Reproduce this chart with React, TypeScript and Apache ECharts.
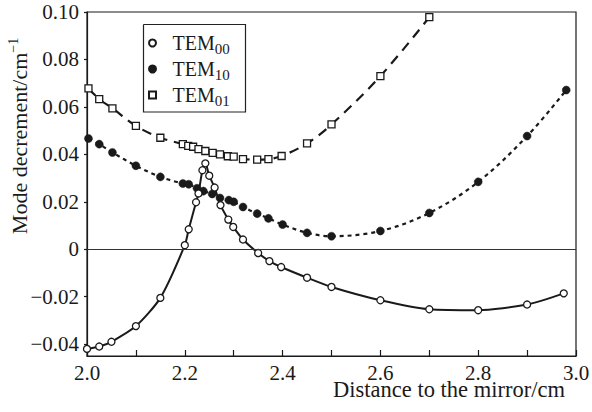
import React, { useEffect, useRef } from "react";
import * as echarts from "echarts";

// ---- data ----
const xTickValues = [2.0, 2.1, 2.2, 2.3, 2.4, 2.5, 2.6, 2.7, 2.8, 2.9, 3.0];
const xLabelValues = [2.0, 2.2, 2.4, 2.6, 2.8, 3.0];
const yLabelValues = [-0.04, -0.02, 0, 0.02, 0.04, 0.06, 0.08, 0.1];

const tem00X = [2.0, 2.025, 2.05, 2.1, 2.15, 2.2, 2.208, 2.223, 2.228, 2.236, 2.242, 2.25, 2.261, 2.273, 2.289, 2.299, 2.319, 2.35, 2.373, 2.397, 2.45, 2.5, 2.6, 2.7, 2.8, 2.9, 2.975];
const tem00Y = [-0.042, -0.041, -0.039, -0.0324, -0.0205, 0.0017, 0.0084, 0.0198, 0.0235, 0.0333, 0.0362, 0.031, 0.026, 0.0186, 0.0125, 0.0094, 0.0041, -0.0016, -0.005, -0.0075, -0.012, -0.0159, -0.0215, -0.0253, -0.0257, -0.0233, -0.0186];

const tem10X = [2.003, 2.025, 2.052, 2.1, 2.15, 2.196, 2.208, 2.225, 2.238, 2.256, 2.272, 2.29, 2.3, 2.319, 2.348, 2.371, 2.4, 2.45, 2.5, 2.6, 2.7, 2.8, 2.9, 2.98];
const tem10Y = [0.0467, 0.0443, 0.0408, 0.0352, 0.0305, 0.0277, 0.0274, 0.0257, 0.0245, 0.0233, 0.0216, 0.0207, 0.02, 0.0178, 0.015, 0.013, 0.0104, 0.0069, 0.0055, 0.0077, 0.0153, 0.0284, 0.0477, 0.0671];

const tem01X = [2.003, 2.025, 2.052, 2.1, 2.15, 2.196, 2.207, 2.217, 2.228, 2.242, 2.257, 2.272, 2.288, 2.3, 2.319, 2.348, 2.371, 2.398, 2.45, 2.5, 2.6, 2.7];
const tem01Y = [0.0678, 0.0633, 0.0594, 0.052, 0.047, 0.0443, 0.0436, 0.0432, 0.0422, 0.0414, 0.0406, 0.04, 0.0392, 0.039, 0.038, 0.0378, 0.038, 0.0393, 0.0446, 0.0526, 0.073, 0.0978];

const seriesNames = ["TEM00", "TEM10", "TEM01"];

const pairs = (xs: number[], ys: number[]) => xs.map((x, i) => [x, ys[i]]);

const FONT = "'Liberation Serif', 'Times New Roman', Times, serif";
const INK = "#1a1a1a";

// legend frame corners (pixels)
const FL = 143.5, FT = 24.5, FR = 245.5, FB = 112;

export default function App() {
  const ref = useRef<HTMLDivElement>(null);
  useEffect(() => {
    if (!ref.current) return;
    const chart = echarts.init(ref.current, undefined, { renderer: "svg" });
    chart.setOption({
      animation: false,
      backgroundColor: "#fff",
      grid: {
        left: 87,
        right: 16,
        top: 12,
        bottom: 56,
        show: true,
        borderColor: INK,
        borderWidth: 1.2,
        containLabel: false,
        outerBoundsMode: "none",
      },
      graphic: [
        {
          type: "polyline",
          silent: true,
          z: 20,
          shape: {
            points: [
              [FL, FT],
              [FR, FT],
              [FR, FB],
              [FL, FB],
              [FL, FT],
            ],
          },
          style: { stroke: "#222", lineWidth: 1.2, fill: null },
        },
      ],
      legend: {
        orient: "vertical",
        left: 144,
        top: 24,
        padding: [6, 8, 6, 4],
        itemGap: 0,
        itemWidth: 7,
        itemHeight: 7,
        z: 10,
        data: [
          { name: seriesNames[0], icon: "circle" },
          { name: seriesNames[1], icon: "circle" },
          { name: seriesNames[2], icon: "rect" },
        ],
        formatter: (name: string) => name.replace(/^TEM(\d\d)$/, "TEM{sub|$1}"),
        textStyle: {
          fontFamily: FONT,
          fontSize: 20,
          color: INK,
          lineHeight: 26,
          padding: [0, 0, 0, 11.5],
          rich: {
            sub: {
              fontFamily: FONT,
              fontSize: 15,
              color: INK,
              lineHeight: 12,
              verticalAlign: "bottom",
            },
          },
        },
      },
      xAxis: {
        type: "value",
        min: 2.0,
        max: 3.0,
        name: "Distance to the mirror/cm",
        nameLocation: "middle",
        nameGap: 27,
        nameMoveOverlap: false,
        nameTextStyle: {
          fontFamily: FONT,
          fontSize: 22.5,
          color: INK,
          lineHeight: 13,
          padding: [0, 0, 0, 235],
        },
        axisLine: { show: true, onZero: false, lineStyle: { color: INK, width: 1.2 } },
        axisTick: {
          show: true,
          inside: true,
          length: 6,
          customValues: xTickValues,
          lineStyle: { color: INK, width: 1.2 },
        },
        axisLabel: {
          customValues: xLabelValues,
          fontFamily: FONT,
          fontSize: 21,
          color: INK,
          lineHeight: 14,
          margin: 10,
          formatter: (v: number) => v.toFixed(1),
        },
        splitLine: { show: false },
      },
      yAxis: {
        type: "value",
        min: -0.045,
        max: 0.1,
        name: "Mode decrement/cm{sup|−1}",
        nameLocation: "middle",
        nameGap: 55,
        nameMoveOverlap: false,
        nameTextStyle: {
          fontFamily: FONT,
          fontSize: 22,
          color: INK,
          lineHeight: 26,
          padding: [0, 0, 0, 96],
          rich: {
            sup: {
              fontFamily: FONT,
              fontSize: 14,
              color: INK,
              lineHeight: 14,
              verticalAlign: "top",
            },
          },
        },
        axisLine: { show: true, onZero: false, lineStyle: { color: INK, width: 1.2 } },
        axisTick: {
          show: true,
          inside: false,
          length: 3,
          customValues: yLabelValues,
          lineStyle: { color: INK, width: 1.2 },
        },
        axisLabel: {
          customValues: yLabelValues,
          fontFamily: FONT,
          fontSize: 21,
          color: INK,
          margin: 8,
          formatter: (v: number) =>
            Math.abs(v) < 1e-9 ? "0" : (v < 0 ? "−" : "") + Math.abs(v).toFixed(2),
        },
        splitLine: { show: false },
      },
      series: [
        {
          name: seriesNames[0],
          type: "line",
          data: pairs(tem00X, tem00Y),
          smooth: 0.25,
          symbol: "circle",
          symbolSize: 7,
          itemStyle: { color: "#fff", borderColor: INK, borderWidth: 1.3 },
          lineStyle: { color: INK, width: 2 },
          z: 3,
          markLine: {
            silent: true,
            symbol: "none",
            label: { show: false },
            lineStyle: { color: "#333", width: 1.2, type: "solid" },
            data: [{ yAxis: 0 }],
          },
        },
        {
          name: seriesNames[1],
          type: "line",
          data: pairs(tem10X, tem10Y),
          smooth: 0.35,
          symbol: "circle",
          symbolSize: 8,
          itemStyle: { color: INK, borderColor: INK, borderWidth: 0.5 },
          lineStyle: { color: INK, width: 2.2, type: [4, 4] },
          z: 2,
        },
        {
          name: seriesNames[2],
          type: "line",
          data: pairs(tem01X, tem01Y),
          smooth: 0.35,
          symbol: "rect",
          symbolSize: 7,
          itemStyle: { color: "#fff", borderColor: INK, borderWidth: 1.3 },
          lineStyle: { color: INK, width: 2.2, type: [10, 7] },
          z: 2,
        },
      ],
    });
    return () => chart.dispose();
  }, []);
  return <div ref={ref} style={{ width: 592, height: 412, position: "absolute", left: 0, top: 0 }} />;
}
